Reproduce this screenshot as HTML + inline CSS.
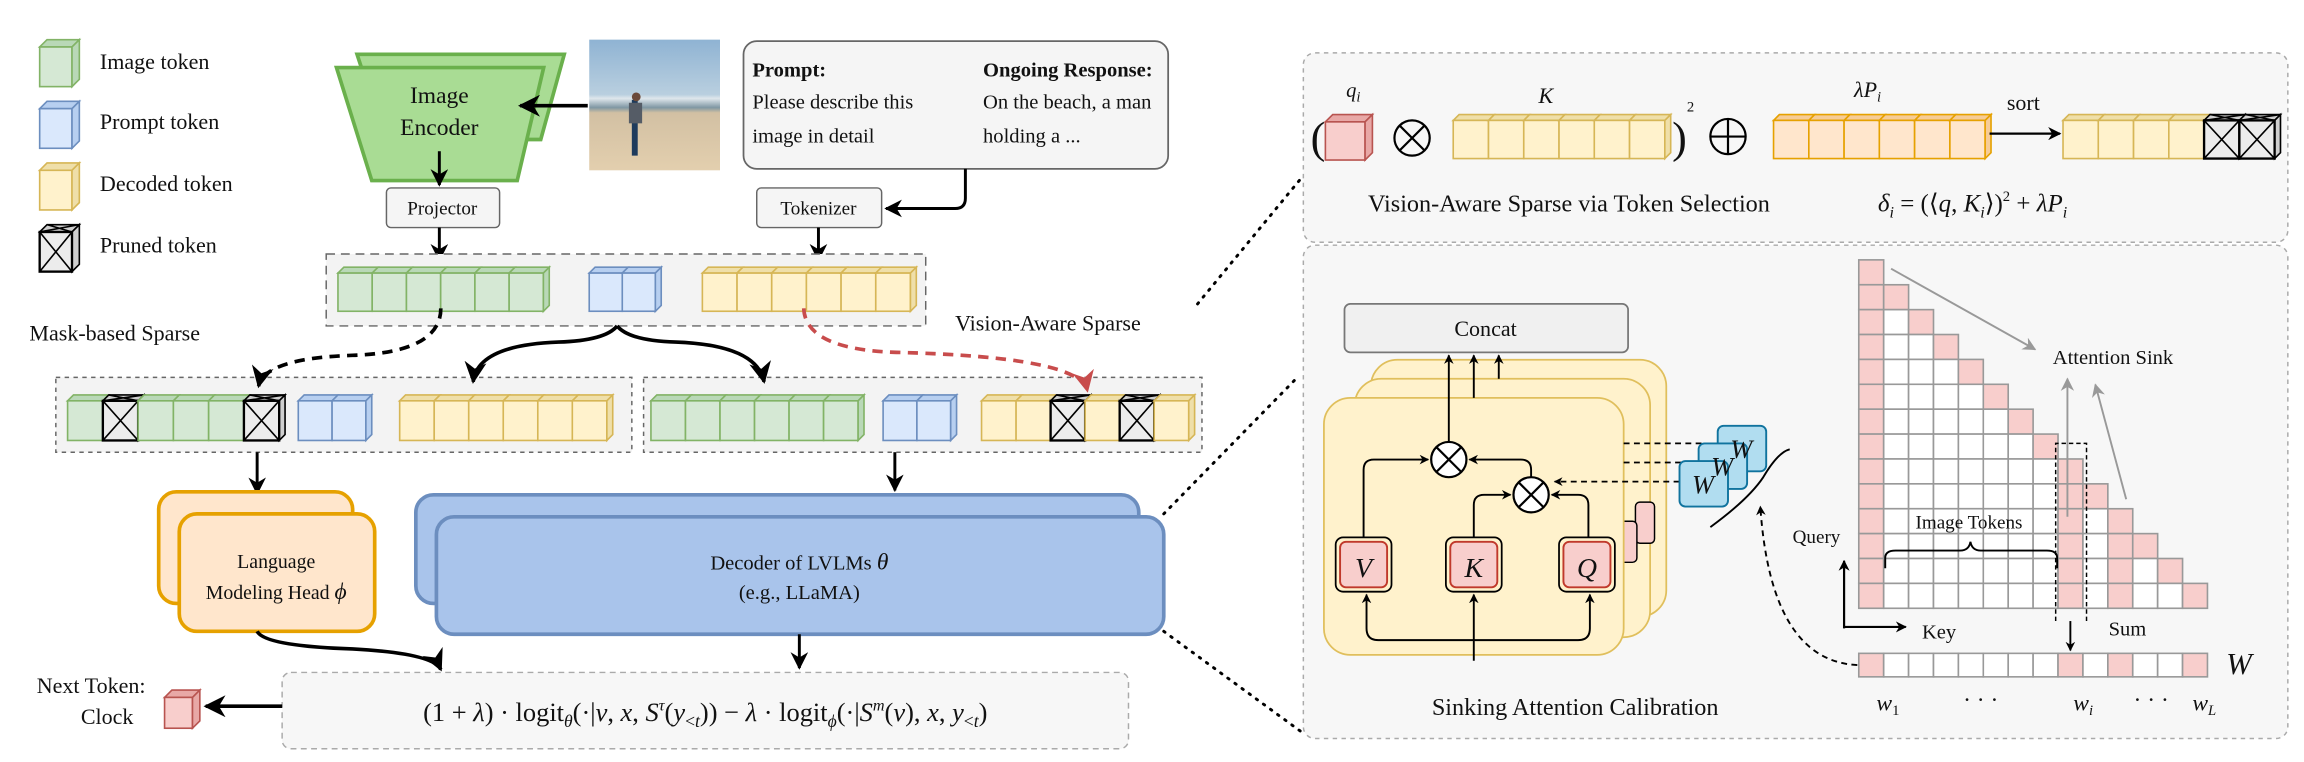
<!DOCTYPE html>
<html><head><meta charset="utf-8"><style>
html,body{margin:0;padding:0;background:#fff;}
svg{display:block;}
text{font-family:"Liberation Serif",serif;fill:#111;}
.it{font-style:italic;}
</style></head><body>
<svg id="s" xmlns="http://www.w3.org/2000/svg" width="2304" height="762" viewBox="0 0 1568 519" preserveAspectRatio="none">
<defs>
<marker id="ah" viewBox="0 0 10 10" refX="9" refY="5" markerWidth="6" markerHeight="6" orient="auto"><path d="M0,0 L10,5 L0,10 L3,5 z" fill="#000"/></marker>
<marker id="ahr" viewBox="0 0 10 10" refX="9" refY="5" markerWidth="6" markerHeight="6" orient="auto"><path d="M0,0 L10,5 L0,10 L3,5 z" fill="#c84c4c"/></marker>
<marker id="ahg" viewBox="0 0 10 10" refX="9" refY="5" markerWidth="7" markerHeight="7" orient="auto"><path d="M0,0 L10,5 L0,10 L3,5 z" fill="#999"/></marker>
<marker id="ahs" viewBox="0 0 10 10" refX="9" refY="5" markerWidth="5" markerHeight="5" orient="auto"><path d="M0,0 L10,5 L0,10 L3,5 z" fill="#000"/></marker>
<linearGradient id="ph" x1="0" y1="0" x2="0" y2="1">
<stop offset="0" stop-color="#8fb3d3"/><stop offset="0.42" stop-color="#b9cfdf"/><stop offset="0.45" stop-color="#dfe7ec"/><stop offset="0.52" stop-color="#7f97a3"/><stop offset="0.56" stop-color="#d2c0a3"/><stop offset="1" stop-color="#e3cfae"/></linearGradient>
</defs>

<!-- right panels -->
<rect x="887" y="36" width="670" height="129" rx="8" fill="#f7f7f7" stroke="#aaa" stroke-dasharray="3,3"/>
<rect x="887" y="167" width="670" height="336" rx="8" fill="#f7f7f7" stroke="#aaa" stroke-dasharray="3,3"/>

<!-- dotted connectors -->
<line x1="815" y1="207" x2="885" y2="122" stroke="#000" stroke-width="2" stroke-dasharray="1,5" stroke-linecap="round"/>
<line x1="792" y1="350" x2="882" y2="258" stroke="#000" stroke-width="2" stroke-dasharray="1,5" stroke-linecap="round"/>
<line x1="792" y1="430" x2="885" y2="498" stroke="#000" stroke-width="2" stroke-dasharray="1,5" stroke-linecap="round"/>

<!-- legend text -->
<text x="68" y="47" font-size="15">Image token</text>
<text x="68" y="88" font-size="15">Prompt token</text>
<text x="68" y="130" font-size="15">Decoded token</text>
<text x="68" y="172" font-size="15">Pruned token</text>

<!-- Image encoder -->
<polygon points="243,37 384,37 368,95 262,95" fill="#a9dc94" stroke="#6ab04c" stroke-width="2.5"/>
<polygon points="229,46 370,46 352,123 253,123" fill="#a9dc94" stroke="#6ab04c" stroke-width="2.5"/>
<text x="299" y="70" font-size="16" text-anchor="middle">Image</text>
<text x="299" y="92" font-size="16" text-anchor="middle">Encoder</text>

<!-- photo -->
<rect x="401" y="27" width="89" height="89" fill="url(#ph)"/>
<line x1="432" y1="68" x2="432" y2="106" stroke="#1e3b5c" stroke-width="4"/>
<rect x="428" y="70" width="9" height="14" fill="#555c66"/>
<circle cx="433" cy="66" r="3" fill="#6b4a3a"/>
<line x1="400" y1="72" x2="354" y2="72" stroke="#000" stroke-width="2.5" marker-end="url(#ah)"/>

<!-- prompt box -->
<rect x="506" y="28" width="289" height="87" rx="9" fill="#f5f5f5" stroke="#666" stroke-width="1.2"/>
<text x="512" y="52" font-size="14" font-weight="bold">Prompt:</text>
<text x="512" y="74" font-size="14">Please describe this</text>
<text x="512" y="97" font-size="14">image in detail</text>
<text x="669" y="52" font-size="14" font-weight="bold">Ongoing Response:</text>
<text x="669" y="74" font-size="14">On the beach, a man</text>
<text x="669" y="97" font-size="14">holding a ...</text>

<!-- projector / tokenizer -->
<rect x="263" y="128" width="77" height="27" rx="3" fill="#f5f5f5" stroke="#666"/>
<text x="301" y="146" font-size="13" text-anchor="middle">Projector</text>
<rect x="515" y="128" width="85" height="27" rx="3" fill="#f5f5f5" stroke="#666"/>
<text x="557" y="146" font-size="13" text-anchor="middle">Tokenizer</text>
<line x1="299" y1="103" x2="299" y2="126" stroke="#000" stroke-width="2" marker-end="url(#ah)"/>
<path d="M657,115 L657,135 Q657,142 650,142 L603,142" fill="none" stroke="#000" stroke-width="2" marker-end="url(#ah)"/>
<line x1="299" y1="155" x2="299" y2="177" stroke="#000" stroke-width="2" marker-end="url(#ah)"/>
<line x1="557" y1="155" x2="557" y2="177" stroke="#000" stroke-width="2" marker-end="url(#ah)"/>

<!-- group boxes -->
<rect x="222" y="173" width="408" height="49" fill="#f3f3f3" stroke="#666" stroke-dasharray="6,4"/>
<rect x="38" y="257" width="392" height="51" fill="#f3f3f3" stroke="#666" stroke-dasharray="3,3"/>
<rect x="438" y="257" width="380" height="51" fill="#f3f3f3" stroke="#666" stroke-dasharray="3,3"/>

<g id="cubes"></g>

<!-- branching arrows -->
<path d="M420,222 Q412,232 380,233 Q325,235 322,260" fill="none" stroke="#000" stroke-width="2.5" marker-end="url(#ah)"/>
<path d="M420,222 Q428,232 460,233 Q515,235 520,260" fill="none" stroke="#000" stroke-width="2.5" marker-end="url(#ah)"/>
<path d="M300,210 Q300,240 240,242 Q180,244 176,263" fill="none" stroke="#000" stroke-width="2.5" stroke-dasharray="7,5" marker-end="url(#ah)"/>
<path d="M547,210 Q548,238 610,240 Q735,243 740,266" fill="none" stroke="#c84c4c" stroke-width="2.5" stroke-dasharray="7,5" marker-end="url(#ahr)"/>
<text x="20" y="232" font-size="15">Mask-based Sparse</text>
<text x="650" y="225" font-size="15">Vision-Aware Sparse</text>

<line x1="175" y1="308" x2="175" y2="336" stroke="#000" stroke-width="2" marker-end="url(#ah)"/>
<line x1="609" y1="308" x2="609" y2="334" stroke="#000" stroke-width="2" marker-end="url(#ah)"/>

<!-- LM head -->
<rect x="108" y="335" width="132" height="76" rx="12" fill="#ffe6cc" stroke="#e6a100" stroke-width="2.5"/>
<rect x="122" y="350" width="133" height="80" rx="12" fill="#ffe6cc" stroke="#e6a100" stroke-width="2.5"/>
<text x="188" y="387" font-size="13.5" text-anchor="middle">Language</text>
<text x="188" y="408" font-size="13.5" text-anchor="middle">Modeling Head <tspan class="it" font-size="16">ϕ</tspan></text>

<!-- Decoder -->
<rect x="283" y="337" width="492" height="74" rx="12" fill="#a9c4eb" stroke="#6c8ebf" stroke-width="2.5"/>
<rect x="297" y="352" width="495" height="80" rx="12" fill="#a9c4eb" stroke="#6c8ebf" stroke-width="2.5"/>
<text x="544" y="388" font-size="14" text-anchor="middle">Decoder of LVLMs <tspan class="it" font-size="16">θ</tspan></text>
<text x="544" y="408" font-size="14" text-anchor="middle">(e.g.,  LLaMA)</text>

<path d="M175,430 Q180,440 240,442 Q295,445 300,456" fill="none" stroke="#000" stroke-width="2.5" marker-end="url(#ah)"/>
<line x1="544" y1="432" x2="544" y2="455" stroke="#000" stroke-width="2" marker-end="url(#ah)"/>

<!-- formula -->
<rect x="192" y="458" width="576" height="52" rx="6" fill="#f7f7f7" stroke="#aaa" stroke-dasharray="4,3"/>
<text x="480" y="491" font-size="18" text-anchor="middle">(1 + <tspan class="it">λ</tspan>) · logit<tspan class="it" font-size="12" dy="4">θ</tspan><tspan dy="-4">(·|</tspan><tspan class="it">v</tspan>, <tspan class="it">x</tspan>, <tspan class="it">S</tspan><tspan class="it" font-size="11" dy="-7">τ</tspan><tspan dy="7">(</tspan><tspan class="it">y</tspan><tspan font-size="12" dy="4">&lt;<tspan class="it">t</tspan></tspan><tspan dy="-4">)) − </tspan><tspan class="it">λ</tspan> · logit<tspan class="it" font-size="12" dy="4">ϕ</tspan><tspan dy="-4">(·|</tspan><tspan class="it">S</tspan><tspan class="it" font-size="11" dy="-7">m</tspan><tspan dy="7">(</tspan><tspan class="it">v</tspan>), <tspan class="it">x</tspan>, <tspan class="it">y</tspan><tspan font-size="12" dy="4">&lt;<tspan class="it">t</tspan></tspan><tspan dy="-4">)</tspan></text>
<text x="25" y="472" font-size="15">Next  Token:</text>
<text x="55" y="493" font-size="15">Clock</text>
<line x1="192" y1="481" x2="140" y2="481" stroke="#000" stroke-width="2.5" marker-end="url(#ah)"/>

<!-- top right panel text -->
<text x="892" y="104" font-size="30" font-weight="100">(</text>
<text x="921" y="66" font-size="14" class="it" text-anchor="middle">q<tspan font-size="10" dy="3">i</tspan></text>
<circle cx="961" cy="94" r="12" fill="none" stroke="#000" stroke-width="1.5"/>
<path d="M952.5,85.5 L969.5,102.5 M969.5,85.5 L952.5,102.5" stroke="#000" stroke-width="1.5"/>
<text x="1052" y="70" font-size="15" class="it" text-anchor="middle">K</text>
<text x="1138" y="104" font-size="30" font-weight="100">)</text>
<text x="1148" y="76" font-size="10">2</text>
<circle cx="1176" cy="93" r="12" fill="none" stroke="#000" stroke-width="1.5"/>
<path d="M1164,93 L1188,93 M1176,81 L1176,105" stroke="#000" stroke-width="1.5"/>
<text x="1271" y="66" font-size="15" class="it" text-anchor="middle">λP<tspan font-size="10" dy="3">i</tspan></text>
<text x="1377" y="75" font-size="15" text-anchor="middle">sort</text>
<line x1="1354" y1="91" x2="1402" y2="91" stroke="#000" stroke-width="1.5" marker-end="url(#ah)"/>
<text x="931" y="144" font-size="16.5">Vision-Aware Sparse via Token Selection</text>
<text x="1278" y="144" font-size="17"><tspan class="it">δ</tspan><tspan class="it" font-size="11" dy="4">i</tspan><tspan dy="-4"> = (⟨</tspan><tspan class="it">q</tspan>, <tspan class="it">K</tspan><tspan class="it" font-size="11" dy="4">i</tspan><tspan dy="-4">⟩)</tspan><tspan font-size="10" dy="-7">2</tspan><tspan dy="7"> + </tspan><tspan class="it">λP</tspan><tspan class="it" font-size="11" dy="4">i</tspan></text>

<!-- sinking attention -->
<rect x="915" y="207" width="193" height="33" rx="4" fill="#f0f0f0" stroke="#777" stroke-width="1.2"/>
<text x="1011" y="229" font-size="15" text-anchor="middle">Concat</text>
<rect x="933" y="245" width="201" height="175" rx="18" fill="#fff2cc" stroke="#e0bf5c" stroke-width="1.2"/>
<rect x="922" y="258" width="201" height="176" rx="18" fill="#fff2cc" stroke="#e0bf5c" stroke-width="1.2"/>
<rect x="1113" y="342" width="13" height="28" rx="3" fill="#f8cecc" stroke="#000"/>
<rect x="1101" y="355" width="13" height="28" rx="3" fill="#f8cecc" stroke="#000"/>
<rect x="901" y="271" width="204" height="175" rx="18" fill="#fff2cc" stroke="#e0bf5c" stroke-width="1.2"/>
<g stroke="#000" stroke-width="1.3" fill="none">
<line x1="986" y1="301" x2="986" y2="242" marker-end="url(#ahs)"/>
<line x1="1003" y1="271" x2="1003" y2="242" marker-end="url(#ahs)"/>
<line x1="1020" y1="258" x2="1020" y2="242" marker-end="url(#ahs)"/>
<path d="M928,366 L928,320 Q928,313 935,313 L972,313" marker-end="url(#ahs)"/>
<path d="M1042,325 L1042,320 Q1042,313 1035,313 L1000,313" marker-end="url(#ahs)"/>
<path d="M1003,366 L1003,344 Q1003,337 1010,337 L1028,337" marker-end="url(#ahs)"/>
<path d="M1081,366 L1081,344 Q1081,337 1074,337 L1056,337" marker-end="url(#ahs)"/>
<path d="M1003,450 L1003,405" marker-end="url(#ahs)"/>
<path d="M1003,436 L938,436 Q930,436 930,428 L930,405" marker-end="url(#ahs)"/>
<path d="M1003,436 L1074,436 Q1082,436 1082,428 L1082,405" marker-end="url(#ahs)"/>
</g>
<circle cx="986" cy="313" r="12" fill="#fff" stroke="#000" stroke-width="1.5"/>
<path d="M977.5,304.5 L994.5,321.5 M994.5,304.5 L977.5,321.5" stroke="#000" stroke-width="1.5"/>
<circle cx="1042" cy="337" r="12" fill="#fff" stroke="#000" stroke-width="1.5"/>
<path d="M1033.5,328.5 L1050.5,345.5 M1050.5,328.5 L1033.5,345.5" stroke="#000" stroke-width="1.5"/>
<g stroke="#000" stroke-width="1.2">
<rect x="909" y="366" width="38" height="37" rx="5" fill="#fff2cc"/>
<rect x="984" y="366" width="38" height="37" rx="5" fill="#fff2cc"/>
<rect x="1061" y="366" width="38" height="37" rx="5" fill="#fff2cc"/>
</g>
<g fill="#f8cecc" stroke="#c0392b" stroke-width="1.3">
<rect x="912" y="369" width="32" height="31" rx="4"/>
<rect x="987" y="369" width="32" height="31" rx="4"/>
<rect x="1064" y="369" width="32" height="31" rx="4"/>
</g>
<text x="928" y="393" font-size="19" class="it" text-anchor="middle">V</text>
<text x="1003" y="393" font-size="19" class="it" text-anchor="middle">K</text>
<text x="1080" y="393" font-size="19" class="it" text-anchor="middle">Q</text>
<g stroke="#000" stroke-width="1.2" stroke-dasharray="4,3" fill="none">
<line x1="1105" y1="302" x2="1170" y2="302"/>
<line x1="1105" y1="315" x2="1157" y2="315"/>
<path d="M1143,328 L1058,328" marker-end="url(#ahs)"/>
</g>
<g fill="#b1ddf0" stroke="#10739e" stroke-width="1.3">
<rect x="1169" y="290" width="33" height="31" rx="4"/>
<rect x="1156" y="302" width="33" height="31" rx="4"/>
<rect x="1143" y="314" width="33" height="31" rx="4"/>
</g>
<text x="1185" y="312" font-size="18" class="it" text-anchor="middle">W</text>
<text x="1172" y="324" font-size="18" class="it" text-anchor="middle">W</text>
<text x="1159" y="336" font-size="18" class="it" text-anchor="middle">W</text>
<path d="M1164,359 Q1190,340 1200,325 Q1210,308 1218,306" fill="none" stroke="#000" stroke-width="1.3"/>
<path d="M1264,453 Q1205,450 1198,345" fill="none" stroke="#000" stroke-width="1.3" stroke-dasharray="4,3" marker-end="url(#ahs)"/>
<text x="1072" y="487" font-size="16.5" text-anchor="middle">Sinking Attention Calibration</text>

<g id="grid"></g>
<!-- matrix annotations -->
<line x1="1287" y1="183" x2="1385" y2="238" stroke="#999" stroke-width="1.3" marker-end="url(#ahg)"/>
<line x1="1407" y1="352" x2="1407" y2="258" stroke="#999" stroke-width="1.3" marker-end="url(#ahg)"/>
<line x1="1447" y1="340" x2="1426" y2="262" stroke="#999" stroke-width="1.3" marker-end="url(#ahg)"/>
<text x="1397" y="248" font-size="14">Attention Sink</text>
<path d="M1399,423 L1399,302 L1420,302 L1420,423" fill="none" stroke="#000" stroke-dasharray="3,2"/>
<line x1="1409" y1="423" x2="1409" y2="443" stroke="#000" stroke-width="1.3" marker-end="url(#ahs)"/>
<text x="1340" y="360" font-size="13" text-anchor="middle">Image Tokens</text>
<path d="M1283,387 L1283,380 Q1283,375 1290,375 L1334,375 Q1340,375 1341,369 Q1342,375 1348,375 L1393,375 Q1400,375 1400,380 L1400,387" fill="none" stroke="#000" stroke-width="1.3"/>
<text x="1220" y="370" font-size="13">Query</text>
<path d="M1255,427 L1297,427" fill="none" stroke="#000" stroke-width="1.5" marker-end="url(#ahs)"/>
<line x1="1255" y1="428" x2="1255" y2="382" stroke="#000" stroke-width="1.5" marker-end="url(#ahs)"/>
<text x="1308" y="435" font-size="14">Key</text>
<text x="1435" y="433" font-size="14">Sum</text>
<text x="1515" y="459" font-size="21" class="it">W</text>
<text x="1277" y="484" font-size="16" class="it">w<tspan font-size="10" dy="3" font-style="normal">1</tspan></text>
<text x="1336" y="482" font-size="16">· · ·</text>
<text x="1411" y="484" font-size="16" class="it">w<tspan font-size="10" dy="3">i</tspan></text>
<text x="1452" y="482" font-size="16">· · ·</text>
<text x="1492" y="484" font-size="16" class="it">w<tspan font-size="10" dy="3">L</tspan></text>
</svg>
<script>
var NS="http://www.w3.org/2000/svg";
var C={g:["#d5e8d4","#82b366","#b9d8b7"],b:["#dae8fc","#6c8ebf","#b7cff0"],y:["#fff2cc","#d6b656","#efdfa9"],r:["#f8cecc","#b85450","#e8a8a6"],o:["#ffe6cc","#e6a100","#f6cc97"],x:["#ececec","#000","#cfcfcf"]};
var cg=document.getElementById('cubes');
function el(t,a,p){var e=document.createElementNS(NS,t);for(var k in a)e.setAttribute(k,a[k]);(p||cg).appendChild(e);return e;}
function row(x,y,w,h,n,ck,pr,d){d=d||4;pr=pr||[];
 for(var i=0;i<n;i++){var c=C[pr.indexOf(i)>=0?'x':ck];var cx=x+i*w;
  el('polygon',{points:[cx,y+d,cx+d,y,cx+w+d,y,cx+w,y+d].join(','),fill:c[2],stroke:c[1],'stroke-width':1.1});
  el('rect',{x:cx,y:y+d,width:w,height:h,fill:c[0],stroke:c[1],'stroke-width':1.1});
  if(i==n-1||pr.indexOf(i)>=0){el('polygon',{points:[cx+w,y+d,cx+w+d,y,cx+w+d,y+h,cx+w,y+h+d].join(','),fill:c[2],stroke:c[1],'stroke-width':1.1});}
  if(pr.indexOf(i)>=0){el('path',{d:'M'+cx+','+(y+d)+' L'+(cx+w)+','+(y+d+h)+' M'+(cx+w)+','+(y+d)+' L'+cx+','+(y+d+h)+' M'+cx+','+(y+d)+' L'+(cx+w+d)+','+y+' M'+(cx+d)+','+y+' L'+(cx+w)+','+(y+d),stroke:'#000','stroke-width':1.1,fill:'none'});
   el('rect',{x:cx,y:y+d,width:w,height:h,fill:'none',stroke:'#000','stroke-width':1.6});}
 }}
row(27,27,22,27,1,'g',[],5);row(27,69,22,27,1,'b',[],5);row(27,111,22,27,1,'y',[],5);row(27,153,22,27,1,'g',[0],5);
row(230,182,23.3,26,6,'g');row(401,182,22.5,26,2,'b');row(478,182,23.6,26,6,'y');
row(46,269,24,27,6,'g',[1,5]);row(203,269,23,27,2,'b');row(272,269,23.5,27,6,'y');
row(443,269,23.5,27,6,'g');row(601,269,23,27,2,'b');row(668,269,23.5,27,6,'y',[2,4]);
row(112,470,19,21,1,'r',[],5);
row(902,78,27,26,1,'r',[],5);
row(989,78,24,26,6,'y');row(1207,78,24,26,6,'o');row(1404,78,24,26,6,'y',[4,5]);
var gg=document.getElementById('grid');var X0=1265,Y0=177,S=16.95;
for(var r=0;r<14;r++)for(var c=0;c<=r;c++){var pk=(c==0||c==r||(c==8&&r>=8)||(c==10&&r>=10));
 el('rect',{x:X0+c*S,y:Y0+r*S,width:S,height:S,fill:pk?'#f8cecc':'#fff',stroke:'#999','stroke-width':1.1},gg);}
for(var c=0;c<14;c++){var pk=(c==0||c==8||c==10||c==13);
 el('rect',{x:X0+c*S,y:445,width:S,height:16,fill:pk?'#f8cecc':'#fff',stroke:'#999','stroke-width':1.1},gg);}
</script>
</body></html>
